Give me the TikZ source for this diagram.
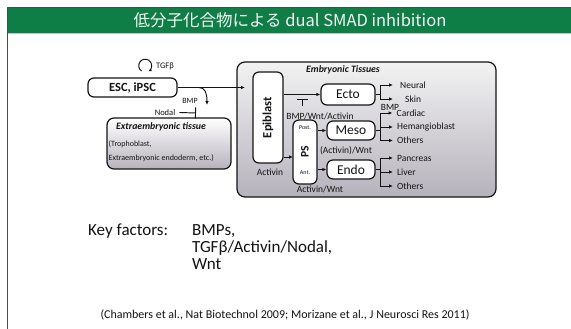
\documentclass[tikz,border=0pt]{standalone}
\usepackage{fontspec}
\setmainfont{Carlito}
\newfontfamily\jpfont{Noto Sans CJK JP}
\usetikzlibrary{arrows.meta}

\definecolor{slidegreen}{RGB}{14,126,70}
\definecolor{boxgray}{RGB}{182,178,188}
\definecolor{inkgray}{RGB}{20,20,20}

\tikzset{
  cellbox/.style   = {shape=rectangle, rounded corners=6pt, draw, fill=white,
                      line width=1.2pt, inner sep=0pt,
                      font=\fontsize{13.5}{14}\selectfont},
  tissuebox/.style = {shape=rectangle, rounded corners=7pt, draw, line width=1.2pt,
                      top color=white, bottom color=boxgray, inner sep=0pt},
  fate/.style      = {anchor=west, inner sep=0pt, font=\fontsize{9.5}{10}\selectfont},
  factor/.style    = {inner sep=0pt, font=\fontsize{9.5}{10}\selectfont},
  note/.style      = {anchor=west, inner sep=0pt, font=\fontsize{8}{9}\selectfont},
  tag/.style       = {inner sep=0pt, font=\fontsize{6}{7}\selectfont},
  heading/.style   = {inner sep=0pt, font=\bfseries\itshape\fontsize{9.8}{10}\selectfont},
  flow/.style      = {-{Latex[length=4pt,width=3.5pt]}, line width=0.95pt},
  block/.style     = {-{Bar[width=11pt]}, line width=0.95pt}
}

\begin{document}
\begin{tikzpicture}
[
  x=1pt, y=-1pt,
  every node/.style = {text=inkgray},
  every path/.style = {draw=inkgray}
]
\useasboundingbox[fill=white, draw=none] (0,0) rectangle (571,329);

% slide frame and title bar
\fill[slidegreen, draw=none] (7,8) rectangle (571,33);
\draw[slidegreen!35, line width=1pt] (7,34) -- (571,34);
\draw[gray!60!black, line width=0.8pt] (7,329) -- (7,7) -- (571,7);
\node[inner sep=0pt, text=gray!8, font=\jpfont\fontsize{16.5}{17}\selectfont]
  (title) at (290,20.5) {低分子化合物による dual SMAD inhibition};

% stem cells and extraembryonic side
\node[cellbox, font=\bfseries\fontsize{12.5}{13}\selectfont,
      minimum width=89pt, minimum height=19pt] (esc) at (132.5,87.5) {ESC, iPSC};
\node[factor, font=\fontsize{8.5}{9}\selectfont, anchor=west] (tgfb) at (156,66) {TGFβ};
\draw[flow, -{Latex[length=3pt,width=3pt]}] (tgfb.west) ++(-14.5,5)
  arc[start angle=235, end angle=-60, radius=6.5pt];

\node[tissuebox, minimum width=124pt, minimum height=51pt] (extra) at (169,143.5) {};
\node[heading] (extra title) at (161,127) {Extraembryonic tissue};
\node[note] (tropho) at (108.5,144) {(Trophoblast,};
\node[note] (endoderm) at (108.5,158) {Extraembryonic endoderm, etc.)};

\node[factor, font=\fontsize{8}{9}\selectfont] (bmp left) at (190,101) {BMP};
\node[factor, font=\fontsize{8.5}{9}\selectfont] (nodal) at (165,112.5) {Nodal};
\coordinate (bmp from) at (199,87.5);
\coordinate (bmp to) at (207,105);
\coordinate (nodal bar) at (196,113);

% embryonic tissues
\node[tissuebox, top color=gray!10, rounded corners=8pt,
      minimum width=259pt, minimum height=135pt] (embryo) at (366.5,129.5) {};
\node[heading] (embryo title) at (343,70) {Embryonic Tissues};

\node[cellbox, minimum width=30pt, minimum height=91pt] (epi) at (268,117.5)
  {\bfseries\fontsize{12.5}{13}\selectfont\rotatebox{90}{Epiblast}};
\node[cellbox, minimum width=24pt, minimum height=64pt] (ps) at (305,152)
  {\bfseries\fontsize{11.5}{12}\selectfont\rotatebox{90}{PS}};
\node[tag] (post) at (305,128) {Post.};
\node[tag] (ant) at (305,173) {Ant.};

\node[cellbox, minimum width=54pt, minimum height=21pt] (ecto) at (348,94.5) {Ecto};
\node[cellbox, minimum width=48pt, minimum height=19pt] (meso) at (351,130.5) {Meso};
\node[cellbox, minimum width=48pt, minimum height=19pt] (endo) at (351,169.5) {Endo};

\node[factor] (activin) at (270,172) {Activin};
\node[factor] (ecto factors) at (320,116) {BMP/Wnt/Activin};
\node[factor] (ecto bmp) at (390,107) {BMP};
\node[factor] (meso factors) at (346,151) {(Activin)/Wnt};
\node[factor] (endo factors) at (320,189.5) {Activin/Wnt};

\coordinate (epi in) at (245,87.5);
\coordinate (ps in) at (293,157);
\coordinate (ecto bar) at (302,106);

\node[fate] (neural) at (400,85) {Neural};
\node[fate] (skin) at (405,99) {Skin};
\node[fate] (cardiac) at (396.5,113) {Cardiac};
\node[fate] (hemangio) at (397,127) {Hemangioblast};
\node[fate] (meso others) at (397,140.5) {Others};
\node[fate] (pancreas) at (397,158) {Pancreas};
\node[fate] (liver) at (397,172) {Liver};
\node[fate] (endo others) at (397,186) {Others};

% connectors
\draw[flow] (esc.east |- epi in) -- (epi in);
\draw[flow] (bmp from) .. controls (205,87.5) and (207,93) .. (bmp to);
\draw[block] (nodal.east) ++(4,0) coordinate (nodal from) -- (nodal bar);

\draw[flow] (ecto.west -| epi.east) -- (ecto.west);
\draw[block] (ecto bar) -- ++(0,-7);
\draw[flow] (ps in -| epi.east) -- (ps in);
\draw[flow] (meso.west -| ps.east) -- (meso.west);
\draw[flow, line width=1.4pt] (endo.west -| ps.east) -- (endo.west);

\draw[line width=0.95pt] (ecto.east) -- ++(5,0) coordinate (ecto fork);
\draw[flow, shorten >=7pt] (ecto fork) |- (neural.west);
\draw[flow, shorten >=12pt] (ecto fork) |- (skin.west);

\draw[line width=0.95pt] (meso.east) -- ++(5,0) coordinate (meso fork);
\draw[flow, shorten >=4pt] (meso fork) |- (cardiac.west);
\draw[flow, shorten >=4pt] (meso fork) |- (hemangio.west);
\draw[flow, shorten >=4pt] (meso fork) |- (meso others.west);

\draw[line width=0.95pt] (endo.east) -- ++(5,0) coordinate (endo fork);
\draw[flow, shorten >=4pt] (endo fork) |- (pancreas.west);
\draw[flow, shorten >=4pt] (endo fork) |- (liver.west);
\draw[flow, shorten >=4pt] (endo fork) |- (endo others.west);

% key factors and references
\node[anchor=base west, inner sep=0pt, font=\fontsize{17}{17}\selectfont]
  (key) at (88,235) {Key factors:};
\node[anchor=base west, inner sep=0pt, align=left, font=\fontsize{17}{17}\selectfont]
  (factors) at (192,269) {BMPs,\\TGFβ/Activin/Nodal,\\Wnt};
\node[inner sep=0pt, font=\fontsize{12}{13}\selectfont] (refs) at (285,315)
  {(Chambers et al., Nat Biotechnol 2009; Morizane et al., J Neurosci Res 2011)};
\end{tikzpicture}
\end{document}
